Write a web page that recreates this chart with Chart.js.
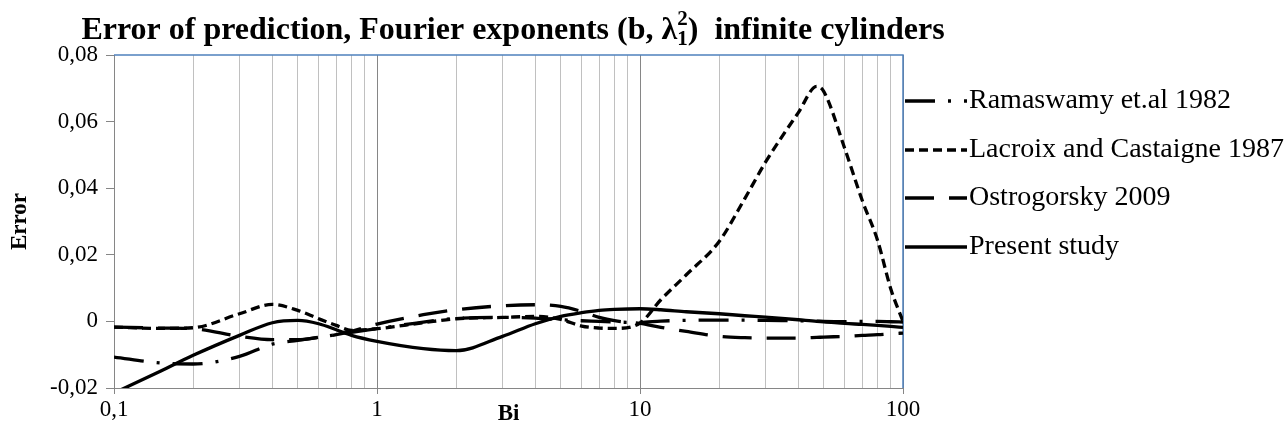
<!DOCTYPE html>
<html><head><meta charset="utf-8">
<script src="https://cdn.jsdelivr.net/npm/chart.js@4"></script>
<style>html,body{margin:0;padding:0;background:#fff;}#wrap{width:1287px;height:432px;position:relative;}</style>
</head><body><div id="wrap"><canvas id="c" width="1287" height="432"></canvas></div>
<script>
// ---- data ----
const biValues    = [0.1, 0.15, 0.2, 0.3, 0.4, 0.5, 0.6, 0.7, 0.8, 1, 1.5, 2, 3, 4, 5, 6, 7, 8, 10, 12, 15, 20, 25, 30, 40, 47, 50, 60, 70, 80, 90, 100];
const ramaswamy   = [-0.0107, -0.0125, -0.0128, -0.0105, -0.0068, -0.0057, -0.0048, -0.0040, -0.0033, -0.0022, -0.0002, 0.0009, 0.0012, 0.0010, 0.0005, 0.0002, 0.0000, -0.0002, -0.0003, 0.0001, 0.0003, 0.0004, 0.0004, 0.0003, 0.0002, 0.0001, 0.0000, -0.0001, 0.0000, 0.0000, -0.0001, -0.0002];
const lacroix     = [-0.0017, -0.0021, -0.0019, 0.0023, 0.0051, 0.0033, 0.0008, -0.0012, -0.0027, -0.0022, -0.0004, 0.0008, 0.0012, 0.0015, 0.0006, -0.0014, -0.0020, -0.0021, -0.0005, 0.0065, 0.0140, 0.0240, 0.0368, 0.0478, 0.0627, 0.0706, 0.0690, 0.0520, 0.0363, 0.0244, 0.0096, 0.0000];
const ostrogorsky = [-0.0017, -0.0020, -0.0022, -0.0045, -0.0055, -0.0055, -0.0048, -0.0040, -0.0030, -0.0008, 0.0020, 0.0035, 0.0047, 0.0050, 0.0045, 0.0030, 0.0012, 0.0002, -0.0006, -0.0018, -0.0030, -0.0045, -0.0049, -0.0050, -0.0050, -0.0048, -0.0047, -0.0045, -0.0042, -0.0040, -0.0037, -0.0035];
const present     = [-0.0215, -0.0150, -0.0102, -0.0042, -0.0004, 0.0003, -0.0007, -0.0025, -0.0042, -0.0060, -0.0082, -0.0088, -0.0045, -0.0007, 0.0015, 0.0026, 0.0033, 0.0036, 0.0038, 0.0035, 0.0029, 0.0023, 0.0017, 0.0013, 0.0005, 0.0000, -0.0001, -0.0006, -0.0009, -0.0012, -0.0015, -0.0018];
const seriesNames = ['Ramaswamy et.al 1982', 'Lacroix and Castaigne 1987', 'Ostrogorsky 2009', 'Present study'];
const xGridValues = [0.1,0.2,0.3,0.4,0.5,0.6,0.7,0.8,0.9,1,2,3,4,5,6,7,8,9,10,20,30,40,50,60,70,80,90,100];
const xMajorValues = [0.1, 1, 10, 100];
const xTickLabels  = ['0,1', '1', '10', '100'];
const yTickValues  = [-0.02, 0, 0.02, 0.04, 0.06, 0.08];
const yTickLabels  = ['-0,02', '0', '0,02', '0,04', '0,06', '0,08'];
const titleMain = 'Error of prediction, Fourier exponents (b, λ';
const titleSub = '1';
const titleSup = '2';
const titleEnd = ')  infinite cylinders';
const xTitle = 'Bi';
const yTitle = 'Error';

// ---- styles ----
const FONT = '"Liberation Serif", "Times New Roman", serif';
const dashes = [[30, 13, 3, 13], [9, 5], [29, 15], []];
const seriesData = [ramaswamy, lacroix, ostrogorsky, present];

const isMajor = v => xMajorValues.some(m => Math.abs(Math.log10(v) - Math.log10(m)) < 1e-6);

const decor = {
  id: 'decor',
  beforeDatasetsDraw(chart) {
    const {ctx, chartArea: a} = chart;
    ctx.save();
    ctx.strokeStyle = '#4f81bd';
    ctx.lineWidth = 1.5;
    ctx.beginPath();
    ctx.moveTo(a.left, a.top); ctx.lineTo(a.right, a.top); ctx.lineTo(a.right, a.bottom);
    ctx.stroke();
    ctx.restore();
  },
  afterDraw(chart) {
    const {ctx} = chart;
    ctx.save();
    // title
    ctx.fillStyle = '#000';
    ctx.textBaseline = 'alphabetic';
    const big = 'bold 32px ' + FONT, small = 'bold 21px ' + FONT;
    ctx.font = big; const w1 = ctx.measureText(titleMain).width, w4 = ctx.measureText(titleEnd).width;
    ctx.font = small; const w2 = ctx.measureText(titleSub).width, w3 = ctx.measureText(titleSup).width;
    const total = w1 + Math.max(w2, w3) + w4;
    let x = 513 - total / 2; const base = 39;
    ctx.font = big; ctx.fillText(titleMain, x, base); x += w1;
    ctx.font = small; ctx.fillText(titleSub, x, base + 6); ctx.fillText(titleSup, x, base - 14); x += Math.max(w2, w3);
    ctx.font = big; ctx.fillText(titleEnd, x, base);
    // legend
    const ys = [101, 150, 198, 247];
    ctx.font = '28px ' + FONT;
    ctx.textBaseline = 'middle';
    chart.data.datasets.forEach((ds, i) => {
      ctx.strokeStyle = '#000'; ctx.lineWidth = 3.5;
      ctx.setLineDash(ds.borderDash || []);
      ctx.beginPath(); ctx.moveTo(905, ys[i]); ctx.lineTo(967, ys[i]); ctx.stroke();
      ctx.setLineDash([]);
      ctx.fillText(ds.label, 969, ys[i]);
    });
    ctx.restore();
  }
};

new Chart(document.getElementById('c'), {
  type: 'line',
  data: {
    datasets: seriesNames.map((name, i) => ({
      label: name,
      data: biValues.map((b, k) => ({x: b, y: seriesData[i][k]})),
      borderColor: '#000', borderWidth: 3.3, borderDash: dashes[i],
      pointRadius: 0, fill: false, cubicInterpolationMode: 'monotone'
    }))
  },
  plugins: [decor],
  options: {
    responsive: false, animation: false, devicePixelRatio: 1,
    layout: {padding: {left: 0, top: 55, right: 1287 - 903, bottom: 0}},
    plugins: {legend: {display: false}, title: {display: false}, tooltip: {enabled: false}},
    scales: {
      x: {
        type: 'logarithmic', min: 0.1, max: 100,
        afterBuildTicks: s => { s.ticks = xGridValues.map(v => ({value: v, major: isMajor(v)})); },
        afterFit: s => { s.height = 44; },
        ticks: {
          autoSkip: false, maxRotation: 0, padding: 2, color: '#000',
          font: {family: FONT, size: 23},
          callback: v => { const i = xMajorValues.findIndex(m => Math.abs(m - v) < 1e-9 * Math.max(1, m)); return i >= 0 ? xTickLabels[i] : ''; }
        },
        grid: {
          color: c => (c.tick && isMajor(c.tick.value)) ? '#868686' : '#c0c0c0',
          tickColor: c => (c.tick && isMajor(c.tick.value)) ? '#868686' : 'rgba(0,0,0,0)',
          tickLength: 6, lineWidth: 1
        },
        border: {color: '#868686', width: 1},
        title: {display: true, text: xTitle, color: '#000', font: {family: FONT, size: 23, weight: 'bold'}, padding: {top: 0, bottom: 4}}
      },
      y: {
        min: -0.02, max: 0.08,
        afterBuildTicks: s => { s.ticks = yTickValues.map(v => ({value: v})); },
        afterFit: s => { s.width = 114; },
        ticks: {
          padding: 8, color: '#000', font: {family: FONT, size: 23},
          callback: v => { const i = yTickValues.findIndex(t => Math.abs(t - v) < 1e-9); return i >= 0 ? yTickLabels[i] : ''; }
        },
        grid: {drawOnChartArea: false, drawTicks: true, tickLength: 8, color: '#868686'},
        border: {color: '#868686', width: 1},
        title: {display: true, text: yTitle, color: '#000', font: {family: FONT, size: 23, weight: 'bold'}, padding: {top: 6}}
      }
    }
  }
});
</script></body></html>
